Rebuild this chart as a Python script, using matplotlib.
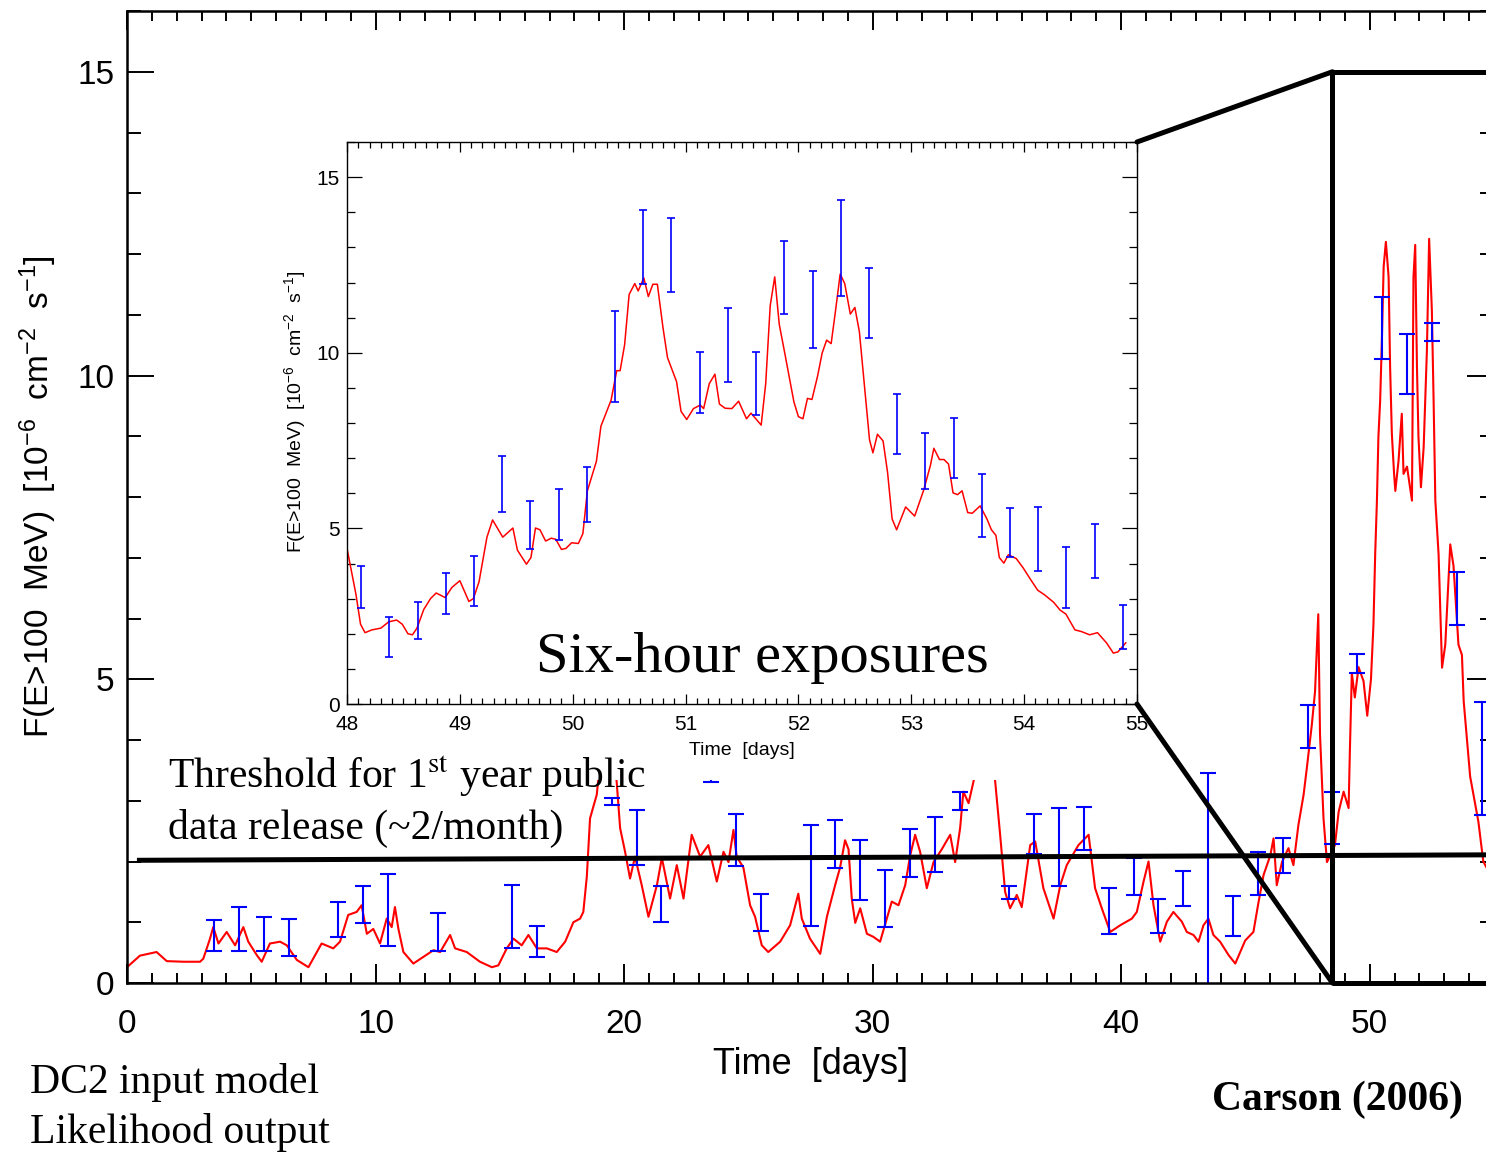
import matplotlib
matplotlib.use("Agg")
import matplotlib.pyplot as plt
import numpy as np
from matplotlib.patches import Rectangle, ConnectionPatch
from matplotlib.ticker import MultipleLocator

plt.rcParams["font.family"] = ["Liberation Sans", "DejaVu Sans"]
plt.rcParams["mathtext.fontset"] = "custom"
plt.rcParams["mathtext.rm"] = "Liberation Sans"
plt.rcParams["mathtext.it"] = "Liberation Sans:italic"

# DC2 input model light curve (days, flux 1e-6 cm^-2 s^-1)
main_t = [0.0, 0.52, 1.19, 1.6, 2.27, 2.94, 3.07, 3.34, 3.47, 3.68, 4.01, 4.35, 4.68, 4.88,
          5.22, 5.42, 5.75, 6.16, 6.43, 6.83, 7.3, 7.83, 8.3, 8.57, 8.9, 9.24, 9.44, 9.65,
          9.91, 10.18, 10.45, 10.65, 10.78, 10.92, 11.12, 11.52, 12.0, 12.33, 12.6, 13.0,
          13.2, 13.67, 14.2, 14.68, 14.94, 15.28, 15.55, 15.88, 16.15, 16.49, 16.89, 17.29,
          17.63, 17.96, 18.23, 18.36, 18.5, 18.63, 18.9, 19.1, 19.3, 19.5, 19.7, 19.84,
          20.04, 20.24, 20.44, 20.71, 20.98, 21.32, 21.52, 21.85, 22.12, 22.39, 22.72, 23.06,
          23.39, 23.73, 24.0, 24.2, 24.4, 24.53, 24.8, 25.07, 25.27, 25.54, 25.8, 26.28,
          26.68, 27.01, 27.15, 27.48, 27.89, 28.16, 28.49, 28.69, 28.89, 29.03, 29.16, 29.3,
          29.5, 29.77, 30.03, 30.3, 30.57, 30.77, 31.04, 31.31, 31.51, 31.71, 31.91, 32.18,
          32.45, 32.78, 33.12, 33.32, 33.52, 33.65, 33.86, 34.06, 34.3, 34.6, 34.93, 35.13,
          35.33, 35.53, 35.8, 36.0, 36.34, 36.54, 36.87, 37.28, 37.55, 37.81, 38.28, 38.69,
          38.95, 39.22, 39.56, 39.96, 40.43, 40.63, 40.9, 41.1, 41.3, 41.57, 41.84, 42.1,
          42.44, 42.64, 42.91, 43.11, 43.31, 43.51, 43.71, 43.98, 44.32, 44.59, 44.99, 45.32,
          45.53, 45.73, 46.0, 46.13, 46.26, 46.47, 46.73, 46.93, 47.13, 47.34, 47.47, 47.67,
          47.8, 47.93, 48.0, 48.14, 48.28, 48.6, 48.75, 48.95, 49.15, 49.2, 49.28, 49.4,
          49.55, 49.75, 49.9, 50.05, 50.15, 50.22, 50.29, 50.35, 50.42, 50.49, 50.56, 50.65,
          50.76, 50.82, 50.89, 50.98, 51.03, 51.16, 51.29, 51.36, 51.5, 51.7, 51.76, 51.83,
          51.9, 51.96, 52.06, 52.17, 52.3, 52.39, 52.5, 52.57, 52.64, 52.77, 52.91, 53.04,
          53.24, 53.37, 53.57, 53.71, 53.78, 54.04, 54.37, 54.57, 54.7]
main_f = [0.26, 0.45, 0.51, 0.36, 0.35, 0.35, 0.40, 0.73, 0.92, 0.65, 0.84, 0.62, 0.92, 0.68,
          0.46, 0.35, 0.65, 0.68, 0.62, 0.38, 0.26, 0.65, 0.57, 0.68, 1.12, 1.17, 1.28, 0.81,
          0.89, 0.65, 1.06, 0.92, 1.25, 0.89, 0.51, 0.32, 0.45, 0.54, 0.51, 0.79,
          0.57, 0.51, 0.35, 0.26, 0.29, 0.57, 0.73, 0.62, 0.79, 0.57, 0.57, 0.51,
          0.68, 1.0, 1.06, 1.17, 1.75, 2.71, 3.1, 3.9, 4.3, 3.8, 3.32, 2.55,
          2.16, 1.72, 2.08, 1.61, 1.09, 1.61, 2.06, 1.39, 1.94, 1.39, 2.44, 2.08,
          2.27, 1.67, 2.16, 1.99, 2.52, 2.08, 1.9, 1.28, 1.09, 0.62, 0.51, 0.68,
          0.95, 1.47, 1.06, 0.73, 0.48, 1.09, 1.61, 1.9, 2.35, 2.2, 1.39, 0.99,
          1.23, 0.81, 0.76, 0.68, 1.06, 1.34, 1.28, 1.61, 2.1, 2.44, 2.16, 1.56,
          1.99, 2.2, 2.44, 1.99, 2.55, 3.15, 2.96, 3.32, 4.0, 4.4, 3.32, 2.44,
          1.5, 1.23, 1.45, 1.25, 2.27, 2.33, 1.56, 1.06, 1.61, 1.94, 2.27, 2.44,
          1.56, 1.23, 0.84, 0.95, 1.06, 1.17, 1.67, 2.0, 1.28, 0.68, 1.01, 1.17,
          1.01, 0.84, 0.79, 0.68, 0.95, 1.06, 0.79, 0.68, 0.46, 0.32, 0.7, 0.84,
          1.34, 1.78, 2.1, 2.38, 1.61, 1.99, 2.22, 1.94, 2.6, 3.1, 3.54, 4.25,
          4.8, 6.07, 4.09, 2.71, 1.99, 2.27, 2.82, 3.15, 2.88, 3.8, 5.1, 4.7,
          5.2, 4.97, 4.4, 5.0, 5.9, 7.06, 7.95, 9.0, 9.59, 10.6, 11.79, 12.2,
          11.62, 10.14, 9.04, 8.38, 8.1, 8.6, 9.37, 8.38, 8.5, 7.94, 11.62, 12.15,
          10.15, 9.0, 8.16, 8.82, 10.41, 12.25, 11.07, 9.59, 7.94, 7.06, 5.19, 5.57,
          7.22, 6.87, 5.57, 5.4, 4.64, 3.4, 2.66, 2.0, 1.9]

# daily likelihood fits
like_t = [3.5, 4.5, 5.5, 6.5, 8.5, 9.5, 10.5, 12.5, 15.5, 16.5, 19.5, 20.5, 21.5, 23.5,
          24.5, 25.5, 27.5, 28.5, 29.5, 30.5, 31.5, 32.5, 33.5, 35.5, 36.5, 37.5, 38.5,
          39.5, 40.5, 41.5, 42.5, 43.5, 44.5, 45.5, 46.5, 47.5, 48.5, 49.5, 50.5, 51.5,
          52.5, 53.5, 54.5]
like_lo = [0.52, 0.53, 0.52, 0.44, 0.76, 0.98, 0.61, 0.52, 0.57, 0.43, 2.93, 1.95, 1.01, 3.31,
           1.93, 0.86, 0.94, 1.90, 1.36, 0.92, 1.74, 1.83, 2.84, 1.38, 2.12, 1.60, 2.19,
           0.80, 1.45, 0.82, 1.26, -0.5, 0.78, 1.45, 1.81, 3.87, 2.29, 5.10, 10.27, 9.69,
           10.57, 5.90, 2.77]
like_hi = [1.03, 1.25, 1.08, 1.05, 1.34, 1.59, 1.79, 1.16, 1.62, 0.94, 3.05, 2.85, 1.60, 4.40,
           2.78, 1.47, 2.60, 2.69, 2.35, 1.86, 2.53, 2.74, 3.14, 1.60, 2.78, 2.88, 2.89,
           1.56, 2.05, 1.39, 1.85, 3.45, 1.43, 2.15, 2.39, 4.58, 3.15, 5.41, 11.30, 10.69,
           10.86, 6.77, 4.63]

# inset: days 48-55
ins_t = [48.0, 48.08, 48.12, 48.16, 48.22, 48.3, 48.37, 48.44, 48.49, 48.54, 48.58, 48.62,
         48.68, 48.74, 48.79, 48.87, 48.93, 49.0, 49.08, 49.12, 49.17, 49.24, 49.29, 49.38,
         49.47, 49.51, 49.59, 49.63, 49.67, 49.71, 49.76, 49.81, 49.85, 49.9, 49.94, 49.99,
         50.05, 50.09, 50.13, 50.21, 50.25, 50.34, 50.39, 50.42, 50.46, 50.5, 50.55, 50.58,
         50.63, 50.67, 50.71, 50.75, 50.8, 50.84, 50.92, 50.96, 51.01, 51.07, 51.13, 51.16,
         51.21, 51.26, 51.3, 51.35, 51.41, 51.47, 51.54, 51.58, 51.67, 51.71, 51.75, 51.79,
         51.83, 51.88, 51.96, 52.0, 52.04, 52.08, 52.12, 52.17, 52.21, 52.25, 52.29, 52.33,
         52.37, 52.41, 52.46, 52.5, 52.54, 52.58, 52.63, 52.66, 52.7, 52.75, 52.79, 52.83,
         52.87, 52.95, 53.03, 53.11, 53.17, 53.2, 53.25, 53.29, 53.33, 53.37, 53.41, 53.45,
         53.5, 53.54, 53.61, 53.67, 53.71, 53.75, 53.78, 53.82, 53.86, 53.93, 53.99, 54.06,
         54.12, 54.18, 54.26, 54.32, 54.37, 54.45, 54.51, 54.58, 54.65, 54.73, 54.79, 54.83,
         54.9]
ins_f = [4.43, 3.11, 2.27, 2.03, 2.11, 2.16, 2.34, 2.39, 2.27, 2.0, 1.97, 2.16,
         2.69, 3.0, 3.16, 3.03, 3.32, 3.51, 2.92, 3.0, 3.48, 4.75, 5.24, 4.75,
         5.01, 4.38, 3.98, 4.17, 5.01, 4.96, 4.64, 4.72, 4.69, 4.4, 4.43, 4.59,
         4.57, 4.85, 6.07, 6.91, 7.91, 8.65, 9.49, 9.49, 10.23, 11.66, 11.97, 11.76,
         12.13, 11.6, 11.95, 11.95, 10.71, 9.86, 9.18, 8.33, 8.1, 8.41, 8.51, 8.41,
         9.12, 9.39, 8.54, 8.42, 8.41, 8.62, 8.12, 8.28, 7.94, 9.12, 11.34, 12.16,
         10.81, 9.97, 8.6, 8.18, 8.12, 8.7, 8.67, 9.34, 9.99, 10.36, 10.26, 11.23,
         12.24, 11.97, 11.1, 11.29, 10.6, 9.23, 7.52, 7.15, 7.68, 7.49, 6.59, 5.27,
         4.96, 5.61, 5.35, 6.09, 6.8, 7.28, 6.96, 6.96, 6.83, 6.01, 5.96, 6.07,
         5.45, 5.43, 5.64, 5.27, 4.96, 4.8, 4.17, 4.01, 4.25, 4.14, 3.88, 3.53,
         3.24, 3.11, 2.9, 2.67, 2.56, 2.11, 2.06, 1.97, 2.03, 1.74, 1.45, 1.48,
         1.74]

six_t = [48.125, 48.375, 48.625, 48.875, 49.125, 49.375, 49.625, 49.875, 50.125, 50.375,
         50.625, 50.875, 51.125, 51.375, 51.625, 51.875, 52.125, 52.375, 52.625, 52.875,
         53.125, 53.375, 53.625, 53.875, 54.125, 54.375, 54.625, 54.875]
six_lo = [2.74, 1.34, 1.85, 2.56, 2.80, 5.47, 4.41, 4.66, 5.17, 8.60, 11.97, 11.72, 8.28, 9.18,
          8.23, 11.11, 10.14, 11.61, 10.43, 7.12, 6.11, 6.42, 4.75, 4.19, 3.80, 2.74, 3.59, 1.58]
six_hi = [3.93, 2.48, 2.90, 3.72, 4.20, 7.05, 5.78, 6.11, 6.74, 11.18, 14.06, 13.84, 10.02,
          11.28, 10.02, 13.19, 12.33, 14.35, 12.42, 8.83, 7.72, 8.14, 6.54, 5.57, 5.62, 4.46,
          5.12, 2.83]

threshold = [2.02, 2.11]   # hand-drawn line, slightly tilted
zoom_x0, zoom_ytop = 48.5, 15
flux_label = r"F(E>100  MeV)  [10$^{-6}$  cm$^{-2}$  s$^{-1}$]"

W, H = 1486, 1152
fig = plt.figure(figsize=(W / 100, H / 100), dpi=100)

# ---- main panel
ax = fig.add_axes([127 / W, 1 - 983 / H, 1367 / W, 972 / H], zorder=0)
ax.plot(main_t, main_f, color="red", lw=1.5)
lo, hi = np.array(like_lo), np.array(like_hi)
mid = (lo + hi) / 2
ax.errorbar(like_t, mid, yerr=[mid - lo, hi - mid], fmt="none", ecolor="blue",
            elinewidth=1.5, capsize=6, capthick=1.5)
ax.plot([0.5, 55], threshold, color="black", lw=3.6, zorder=4, clip_on=False)
ax.add_patch(Rectangle((zoom_x0, 0), 10, zoom_ytop, fill=False, ec="black", lw=3.6,
                       clip_on=False, zorder=5))
ax.set_xlim(0, 55)
ax.set_ylim(0, 16)
ax.xaxis.set_major_locator(MultipleLocator(10))
ax.xaxis.set_minor_locator(MultipleLocator(1))
ax.yaxis.set_major_locator(MultipleLocator(5))
ax.yaxis.set_minor_locator(MultipleLocator(1))
ax.tick_params(which="both", direction="in", top=True, right=True, width=1.4, labelsize=24)
ax.tick_params(axis="x", which="major", length=14, pad=19)
ax.tick_params(axis="x", which="minor", length=7)
ax.tick_params(axis="y", which="major", length=19.5, pad=9)
ax.tick_params(axis="y", which="minor", length=10)
for s in ax.spines.values():
    s.set_linewidth(1.8)
ax.set_xlabel("Time  [days]", fontsize=26)
ax.xaxis.set_label_coords(0.5, -0.066)
ax.set_ylabel(flux_label, fontsize=24)
ax.yaxis.set_label_coords(-0.05, 0.5)

# white backdrop of the pasted inset
fig.add_artist(Rectangle((268 / W, 1 - 780 / H), 874 / W, 648 / H, transform=fig.transFigure,
                         fc="white", ec="none", zorder=1))

# ---- inset
ins = fig.add_axes([347 / W, 1 - 704 / H, 790 / W, 562 / H], zorder=2)
ins.plot(ins_t, ins_f, color="red", lw=1.1)
slo, shi = np.array(six_lo), np.array(six_hi)
smid = (slo + shi) / 2
ins.errorbar(six_t, smid, yerr=[smid - slo, shi - smid], fmt="none", ecolor="blue",
             elinewidth=1.2, capsize=3, capthick=1.2)
ins.set_xlim(48, 55)
ins.set_ylim(0, 16)
ins.xaxis.set_major_locator(MultipleLocator(1))
ins.xaxis.set_minor_locator(MultipleLocator(0.1))
ins.yaxis.set_major_locator(MultipleLocator(5))
ins.yaxis.set_minor_locator(MultipleLocator(1))
ins.tick_params(which="both", direction="in", top=True, right=True, width=0.9, labelsize=15)
ins.tick_params(axis="x", which="major", length=7, pad=8)
ins.tick_params(axis="x", which="minor", length=4)
ins.tick_params(axis="y", which="major", length=11, pad=5)
ins.tick_params(axis="y", which="minor", length=6)
for s in ins.spines.values():
    s.set_linewidth(1.0)
ins.set_xlabel("Time  [days]", fontsize=14)
ins.xaxis.set_label_coords(0.5, -0.068)
ins.set_ylabel(flux_label, fontsize=14)
ins.yaxis.set_label_coords(-0.05, 0.52)
ins.text(0.239, 0.057, "Six-hour exposures", transform=ins.transAxes, family="Liberation Serif",
         fontsize=42, va="baseline")

# zoom connectors
for a, b in [((1, 1), (zoom_x0, zoom_ytop)), ((1, 0), (zoom_x0, 0))]:
    fig.add_artist(ConnectionPatch(xyA=a, coordsA=ins.transAxes, xyB=b, coordsB=ax.transData,
                                   color="black", lw=3.6, zorder=3))

serif = dict(family="Liberation Serif", fontsize=30, va="baseline")
fig.text(168 / W, 1 - 788 / H, r"Threshold for 1$^{\mathrm{st}}$ year public",
         math_fontfamily="stix", zorder=4, **serif)
fig.text(168 / W, 1 - 839 / H, "data release (~2/month)", zorder=4, **serif)
fig.text(30 / W, 1 - 1093 / H, "DC2 input model", **serif)
fig.text(30 / W, 1 - 1143 / H, "Likelihood output", **serif)
fig.text(1463 / W, 1 - 1110 / H, "Carson (2006)", ha="right", fontweight="bold", **serif)

fig.savefig("out.png", dpi=100)
